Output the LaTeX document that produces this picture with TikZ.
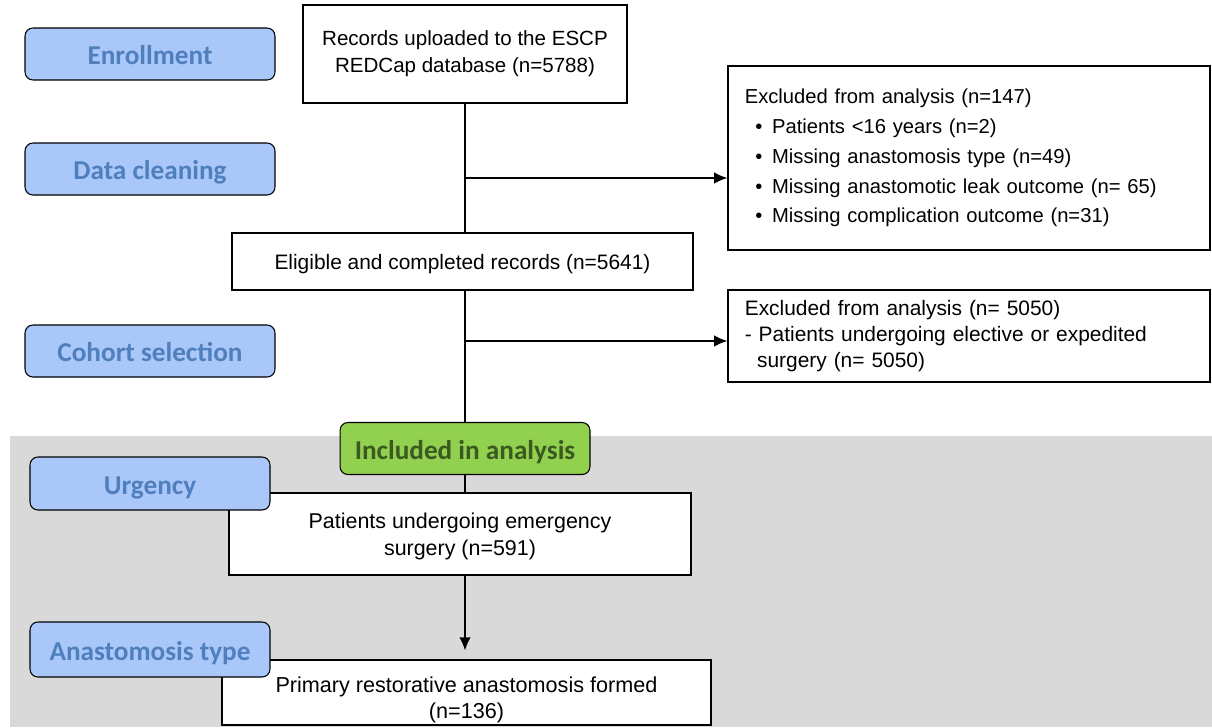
\documentclass[tikz,border=0pt]{standalone}
\usepackage{fontspec}
\setmainfont{Liberation Sans}
\newfontfamily\stagefont{Carlito}
\usetikzlibrary{arrows.meta}

\definecolor{stagefill}{HTML}{A9C7F8}
\definecolor{stagetext}{HTML}{4F7FBD}
\definecolor{incfill}{HTML}{92D050}
\definecolor{inctext}{HTML}{3A5A20}
\definecolor{bandgrey}{HTML}{D9D9D9}

\begin{document}
\begin{tikzpicture}[x=0.02cm,y=-0.02cm,
        flowbox/.style={draw,fill=white,line width=0.8pt,align=center,
            font=\fontsize{11.7}{15.5}\selectfont},
        exclbox/.style={draw,fill=white,line width=0.8pt,align=left,
            minimum width=9.64cm,inner xsep=9.5pt,text width=8.97cm},
        stagebox/.style={draw,line width=0.6pt,rounded corners=4.5pt,fill=stagefill,
            text=stagetext,minimum width=5cm,minimum height=1.04cm,
            text height=13.5pt,text depth=1.5pt,
            font=\stagefont\bfseries\fontsize{15.5}{18}\selectfont},
        flowline/.style={line width=0.8pt},
        flowarrow/.style={line width=0.8pt,-{Latex[length=7.5pt,width=6.5pt]}}
    ]
        \useasboundingbox (0,0) rectangle (1212,727);
        \fill[bandgrey] (10,436) rectangle (1212,727);

        \node[flowbox,minimum width=6.48cm,minimum height=1.96cm] (records) at (465,54)
            {Records uploaded to the ESCP\\REDCap database (n=5788)};
        \node[exclbox,minimum height=3.68cm,font=\fontsize{11.5}{17}\selectfont] (excl1) at (969,158)
            {Excluded from analysis (n=147)\\
            \hspace*{6pt}\textbullet\hspace{5.5pt}Patients <16 years (n=2)\\
            \hspace*{6pt}\textbullet\hspace{5.5pt}Missing anastomosis type (n=49)\\
            \hspace*{6pt}\textbullet\hspace{5.5pt}Missing anastomotic leak outcome (n= 65)\\
            \hspace*{6pt}\textbullet\hspace{5.5pt}Missing complication outcome (n=31)};
        \node[flowbox,minimum width=9.22cm,minimum height=1.14cm,text depth=0pt,
            font=\fontsize{11.9}{15.5}\selectfont] (eligible) at (462.5,261.5)
            {Eligible and completed records (n=5641)};
        \node[exclbox,minimum height=1.84cm,font=\fontsize{11.9}{15}\selectfont] (excl2) at (969,336)
            {Excluded from analysis (n= 5050)\\
            - Patients undergoing elective or expedited\\
            \hspace*{7pt}surgery (n= 5050)};
        \node[stagebox,fill=incfill,text=inctext] (included) at (465,448.5) {Included in analysis};
        \node[flowbox,minimum width=9.24cm,minimum height=1.64cm,text depth=0pt,
            font=\fontsize{12.2}{15.3}\selectfont] (emergency) at (460,534)
            {Patients undergoing emergency\\surgery (n=591)};
        \node[flowbox,minimum width=9.78cm,minimum height=1.3cm,text height=30pt,text depth=0pt,
            font=\fontsize{12.3}{14.8}\selectfont] (primary) at (466.5,692.5)
            {Primary restorative anastomosis formed\\(n=136)};

        \coordinate (split1) at (465,178);
        \coordinate (split2) at (465,341);
        \draw[flowline] (records.south) -- (records.south |- eligible.north);
        \draw[flowline] (records.south |- eligible.south) -- (included.north);
        \draw[flowline] (included.south) -- (included.south |- emergency.north);
        \draw[flowarrow,shorten >=5pt] (included.south |- emergency.south) -- (included.south |- primary.north);
        \draw[flowarrow] (split1) -- (split1 -| excl1.west);
        \draw[flowarrow] (split2) -- (split2 -| excl2.west);

        \node[stagebox] (enrol) at (150,54) {Enrollment};
        \node[stagebox] (clean) at (150,169) {Data cleaning};
        \node[stagebox] (cohort) at (150,351) {Cohort selection};
        \node[stagebox,minimum width=4.8cm,minimum height=1.06cm] (urgency) at (150,483.5) {Urgency};
        \node[stagebox,minimum width=4.8cm,minimum height=1.1cm] (anastype) at (150,649.5) {Anastomosis type};
    \end{tikzpicture}
\end{document}
